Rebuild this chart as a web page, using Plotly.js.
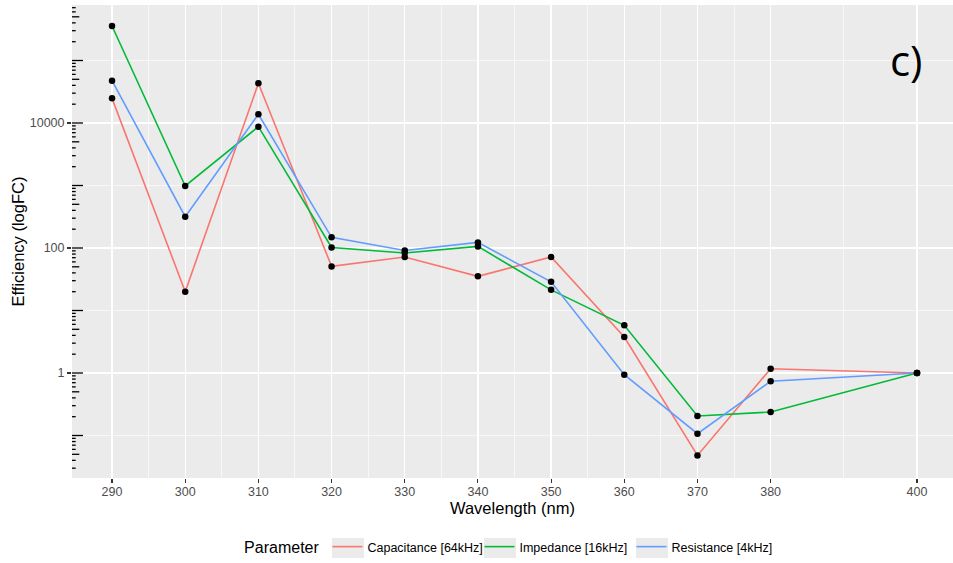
<!DOCTYPE html>
<html>
<head>
<meta charset="utf-8">
<script src="https://cdn.plot.ly/plotly-3.0.1.min.js"></script>
<style>html,body{margin:0;padding:0;overflow:hidden;background:#fff}#chart{width:953px;height:563px}</style>
</head>
<body>
<div id="chart"></div>
<script>
const wavelength = [290, 300, 310, 320, 330, 340, 350, 360, 370, 380, 400];
const capacitance = [24800, 20, 43200, 50.8, 71.8, 35.2, 71.8, 3.77, 0.048, 1.17, 1];
const impedance   = [356000, 982, 8730, 102, 83.2, 106, 21.4, 5.8, 0.205, 0.238, 1];
const resistance  = [47500, 317, 13800, 148, 91.2, 123, 28.8, 0.94, 0.107, 0.736, 1];
const seriesNames = ["Capacitance [64kHz]", "Impedance [16kHz]", "Resistance [4kHz]"];
const seriesColors = ["#F8766D", "#00BA38", "#619CFF"];
const xTicks = [290, 300, 310, 320, 330, 340, 350, 360, 370, 380, 400];
const xMinor = [295, 305, 315, 325, 335, 345, 355, 365, 375, 390];
const yTicks = [1, 100, 10000];
const yTickText = ["1", "100", "10000"];
const yMinor = [0.1, 10, 1000, 100000];

const values = [capacitance, impedance, resistance];
const traces = [];
values.forEach((v, i) => {
  traces.push({
    x: wavelength, y: v, type: 'scatter', mode: 'lines',
    name: seriesNames[i], line: {color: seriesColors[i], width: 1.6},
    legendgroup: 'g' + i, showlegend: true, hoverinfo: 'x+y+name'
  });
});
values.forEach((v, i) => {
  traces.push({
    x: wavelength, y: v, type: 'scatter', mode: 'markers',
    name: seriesNames[i], marker: {color: '#000000', size: 6.5},
    legendgroup: 'g' + i, showlegend: false, hoverinfo: 'x+y+name'
  });
});

// log tick annotations (ggplot annotation_logticks style) along left edge
const plotW = 881, plotH = 473;
const yRange = [-1.68, 5.888];
const shapes = [];
for (let k = -2; k <= 5; k++) {
  for (let d = 1; d <= 9; d++) {
    const v = d * Math.pow(10, k);
    const lv = Math.log10(v);
    if (lv < yRange[0] || lv > yRange[1]) continue;
    const len = d === 1 ? 11 : (d === 5 ? 7.3 : 3.7);
    shapes.push({
      type: 'line', xref: 'paper', yref: 'y',
      x0: 0, x1: len / plotW, y0: v, y1: v,
      line: {color: '#000000', width: 1.3}, layer: 'above'
    });
  }
}
// grey legend key backgrounds (ggplot style)
const keyCenters = [348, 500, 652];
keyCenters.forEach(cx => {
  shapes.push({
    type: 'rect', xref: 'paper', yref: 'paper',
    x0: (cx - 16 - 72) / plotW, x1: (cx + 16 - 72) / plotW,
    y0: (478 - 558) / plotH, y1: (478 - 538) / plotH,
    fillcolor: '#EBEBEB', line: {width: 0}, layer: 'below'
  });
});

const layout = {
  width: 953, height: 563,
  margin: {l: 72, r: 0, t: 5, b: 85},
  paper_bgcolor: '#ffffff',
  plot_bgcolor: '#EBEBEB',
  font: {family: 'Liberation Sans, Arial, sans-serif', color: '#000000'},
  xaxis: {
    range: [284.53, 404.92],
    tickmode: 'array', tickvals: xTicks,
    ticks: 'outside', ticklen: 4, tickwidth: 1.1, tickcolor: '#333333',
    tickfont: {size: 12.5, color: '#4D4D4D'}, ticklabelstandoff: -2,
    showgrid: true, gridcolor: '#ffffff', gridwidth: 1.3,
    minor: {tickmode: 'array', tickvals: xMinor, showgrid: true, gridcolor: '#ffffff', gridwidth: 0.6, ticks: ''},
    zeroline: false, showline: false,
    title: {text: 'Wavelength (nm)', font: {size: 16.5, color: '#000000'}, standoff: 0}
  },
  yaxis: {
    type: 'log', range: yRange,
    tickmode: 'array', tickvals: yTicks, ticktext: yTickText,
    ticks: 'outside', ticklen: 4, tickwidth: 1.1, tickcolor: '#333333',
    tickfont: {size: 12.5, color: '#4D4D4D'},
    showgrid: true, gridcolor: '#ffffff', gridwidth: 1.3,
    minor: {tickmode: 'array', tickvals: yMinor, showgrid: true, gridcolor: '#ffffff', gridwidth: 0.6, ticks: ''},
    zeroline: false, showline: false,
    title: {text: 'Efficiency (logFC)', font: {size: 16.5, color: '#000000'}, standoff: 0}
  },
  showlegend: true,
  legend: {
    orientation: 'h', x: 0.5007, xanchor: 'center', y: -0.148, yanchor: 'middle',
    bgcolor: 'rgba(0,0,0,0)',
    entrywidth: 107, entrywidthmode: 'pixels',
    font: {size: 12.5, color: '#000000'},
    title: {text: 'Parameter', side: 'left', font: {size: 16, color: '#000000'}}
  },
  shapes: shapes,
  annotations: [{
    text: 'c)', xref: 'paper', yref: 'paper', x: 0.947, y: 0.884,
    xanchor: 'center', yanchor: 'middle', showarrow: false,
    font: {family: 'Open Sans, sans-serif', size: 42, color: '#000000'}
  }]
};

Plotly.newPlot('chart', traces, layout, {displayModeBar: false, staticPlot: true});
</script>
</body>
</html>
